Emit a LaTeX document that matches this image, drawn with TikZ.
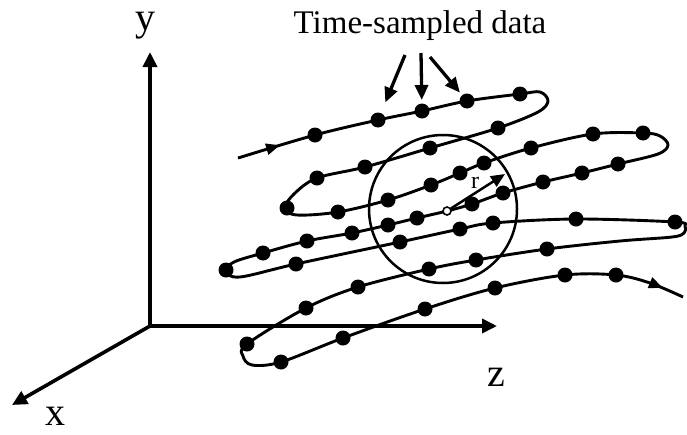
\documentclass[tikz,border=0pt]{standalone}
\usepackage{fontspec}
\setmainfont{Liberation Serif}
\usepackage{tikz}
\usetikzlibrary{arrows.meta,decorations.markings}
\newcommand{\trajdots}[1]{%
  \foreach \pt in {#1}{\fill \pt circle (7.5);}
}

\begin{document}
\begin{tikzpicture}[x=1pt,y=-1pt,
    axis/.style={line width=3.6pt,-{Triangle[length=15pt,width=14pt]}},
    lbl/.style={anchor=base,font=\fontsize{40}{44}\selectfont},
    pointer/.style={line width=3.3pt,-{Triangle[length=15pt,width=13pt]}},
    traj/.style={line width=2.9pt,line join=round,postaction={decorate},
      decoration={markings,
        mark=at position 44pt with {\arrow{Triangle[length=14pt,width=11pt]}},
        mark=at position -22pt with {\arrow{Triangle[length=14pt,width=11pt]}}}}]
    \useasboundingbox (0,0) rectangle (687,434);
    % axes
    \coordinate (O) at (150,326);
    \coordinate (ytip) at (150,52);
    \coordinate (ztip) at (497,326);
    \coordinate (xtip) at (12,405);
    \draw[axis] (O) -- (ytip);
    \draw[axis] (O) -- (ztip);
    \draw[axis] (O) -- (xtip);
    \node[lbl] (ylabel) at (145,30) {y};
    \node[lbl] (zlabel) at (496,386) {z};
    \node[lbl] (xlabel) at (55,425) {x};
    % sphere of radius r
    \draw[line width=2.5pt] (443,209) circle (74);
    % trajectory
    \draw[traj] plot[smooth,tension=0.55] coordinates {
      (238,158) (315,135) (378,120) (422,111) (467,101) (520,94) (540,92)
      (548,101) (538,112) (498,128) (430,148) (365,167) (317,178) (294,194)
      (285,208) (297,215) (338,212) (388,200) (431,185) (460,173) (484,163)
      (531,148) (593,134) (643,133) (660,136) (668,145) (658,154) (618,164)
      (582,173) (543,182) (503,193) (472,204) (447,211) (417,218) (388,225)
      (352,233) (307,241) (263,253) (234,262) (226,271) (240,277) (296,264)
      (400,242) (460,229) (493,223) (576,219) (675,222) (685,226) (684,233)
      (672,237) (620,241) (547,249) (476,260) (429,269) (358,287) (306,308)
      (247,344) (243,356) (252,365) (281,362) (343,338) (425,309) (495,288)
      (565,275) (616,275) (650,283) (683,297)};
    \trajdots{(315,135),(378,120),(422,111),(467,101),(520,94)}
    \trajdots{(498,128),(430,148),(365,167),(317,178),(287,208)}
    \trajdots{(338,212),(388,200),(431,185),(460,173),(484,163),(531,148),(593,134),(643,133)}
    \trajdots{(618,164),(582,173),(543,182),(503,193),(472,204),(417,218),(388,225),(352,233),(307,241),(263,253),(226,270)}
    \trajdots{(296,264),(400,242),(460,229),(493,223),(576,219),(675,222)}
    \trajdots{(547,249),(476,260),(429,269),(358,287),(306,308),(247,344)}
    \trajdots{(281,362),(343,338),(425,309),(495,288),(565,275),(616,275)}
    % centre and radius
    \node[circle,draw,fill=white,line width=1.6pt,inner sep=0pt,minimum size=8pt] (ctr) at (447,211) {};
    \coordinate (rtip) at (505,174);
    \draw[line width=2.5pt,-{Triangle[length=14pt,width=12pt]}] (ctr) -- (rtip);
    \node[anchor=base,font=\fontsize{24}{26}\selectfont] (rlabel) at (475,188) {r};
    % label and pointers
    \node[anchor=base,font=\fontsize{33}{36}\selectfont] (title) at (420,33) {Time-sampled data};
    \coordinate (sA) at (378,120);
    \coordinate (sB) at (422,111);
    \coordinate (sC) at (467,101);
    \coordinate (pA) at (405,55);
    \coordinate (pB) at (421,53);
    \coordinate (pC) at (430,57);
    \draw[pointer,shorten >=19pt] (pA) -- (sA);
    \draw[pointer,shorten >=11pt] (pB) -- (sB);
    \draw[pointer,shorten >=11pt] (pC) -- (sC);
  \end{tikzpicture}
\end{document}
